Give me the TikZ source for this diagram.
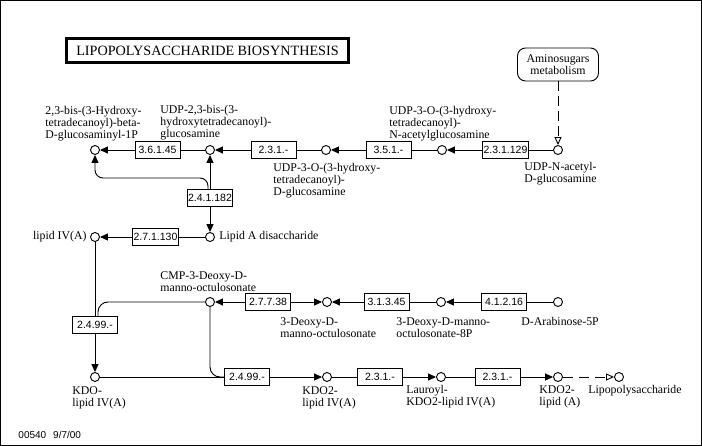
\documentclass[tikz,border=0pt]{standalone}
\usepackage{fontspec}
\setmainfont{Liberation Serif}
\setsansfont{Liberation Sans}
\usetikzlibrary{arrows.meta}

\begin{document}
\begin{tikzpicture}[x=1pt, y=-1pt, line width=0.9pt,
    >={Triangle[length=8pt, width=7pt]},
    cpd/.style={draw, circle, minimum size=9pt, inner sep=0pt},
    enz/.style={draw, rectangle, minimum width=45pt, minimum height=17pt, inner sep=1pt, font=\sffamily\fontsize{10.5}{12}\selectfont},
    txt/.style={align=left, anchor=north west, inner sep=0pt, font=\fontsize{11.8}{12}\selectfont}]
    \useasboundingbox (0, 0) rectangle (702, 446);
    \draw (0.5, 0.5) rectangle (701.5, 445.5);

    \node[draw, line width=3pt, minimum width=282pt, minimum height=24pt, font=\fontsize{14.2}{16}\selectfont] at (207.5, 50.5) (title) {LIPOPOLYSACCHARIDE BIOSYNTHESIS};
    \node[draw, rounded corners=8pt, minimum width=81pt, minimum height=33pt, align=center, font=\fontsize{11.8}{12}\selectfont] at (558, 64.5) (amino) {Aminosugars\\metabolism};
    \node[anchor=west, inner sep=0pt, font=\sffamily\fontsize{10}{12}\selectfont] at (18, 435) (date) {00540\hspace{7pt}9/7/00};

    \node[cpd] at (95, 150) (R1N1) {};
    \node[cpd] at (210, 150) (R1N2) {};
    \node[cpd] at (326, 150) (R1N3) {};
    \node[cpd] at (442, 150) (R1N4) {};
    \node[cpd] at (558, 150) (R1N5) {};
    \node[cpd] at (95, 237) (R2N1) {};
    \node[cpd] at (210, 237) (R2N2) {};
    \node[cpd] at (210, 302) (R3N1) {};
    \node[cpd] at (327, 302) (R3N2) {};
    \node[cpd] at (441, 302) (R3N3) {};
    \node[cpd] at (558, 302) (R3N4) {};
    \node[cpd] at (95, 377) (R4N1) {};
    \node[cpd] at (327, 377) (R4N2) {};
    \node[cpd] at (441, 377) (R4N3) {};
    \node[cpd] at (558, 377) (R4N4) {};
    \node[cpd] at (619, 377) (R4N5) {};

    \node[enz] at (157.5, 150) (R1E1) {3.6.1.45};
    \node[enz] at (273.5, 150) (R1E2) {2.3.1.-};
    \node[enz] at (388.5, 150) (R1E3) {3.5.1.-};
    \node[enz] at (505.5, 150) (R1E4) {2.3.1.129};
    \node[enz] at (210, 198) (R1E5) {2.4.1.182};
    \node[enz] at (155.5, 237) (R2E1) {2.7.1.130};
    \node[enz] at (95, 325) (R2E2) {2.4.99.-};
    \node[enz] at (268, 302) (R3E1) {2.7.7.38};
    \node[enz] at (386.5, 302) (R3E2) {3.1.3.45};
    \node[enz] at (504, 302) (R3E3) {4.1.2.16};
    \node[enz] at (247, 377) (R4E1) {2.4.99.-};
    \node[enz] at (380, 377) (R4E2) {2.3.1.-};
    \node[enz] at (497.5, 377) (R4E3) {2.3.1.-};

    \coordinate (R1K1) at (95, 178);

    \node[txt] at (45, 106) (R1T1) {2,3-bis-(3-Hydroxy-\\tetradecanoyl)-beta-\\D-glucosaminyl-1P};
    \node[txt] at (160, 105) (R1T2) {UDP-2,3-bis-(3-\\hydroxytetradecanoyl)-\\glucosamine};
    \node[txt] at (273, 163) (R1T3) {UDP-3-O-(3-hydroxy-\\tetradecanoyl)-\\D-glucosamine};
    \node[txt] at (389, 106) (R1T4) {UDP-3-O-(3-hydroxy-\\tetradecanoyl)-\\N-acetylglucosamine};
    \node[txt] at (524, 162) (R1T5) {UDP-N-acetyl-\\D-glucosamine};
    \node[txt, anchor=east] at (87, 237) (R2T1) {lipid IV(A)};
    \node[txt, anchor=west] at (219, 237) (R2T2) {Lipid A disaccharide};
    \node[txt] at (160, 271) (R3T1) {CMP-3-Deoxy-D-\\manno-octulosonate};
    \node[txt] at (280, 317) (R3T2) {3-Deoxy-D-\\manno-octulosonate};
    \node[txt] at (396, 317) (R3T3) {3-Deoxy-D-manno-\\octulosonate-8P};
    \node[txt] at (521, 317) (R3T4) {D-Arabinose-5P};
    \node[txt] at (72, 386) (R4T1) {KDO-\\lipid IV(A)};
    \node[txt] at (302, 386) (R4T2) {KDO2-\\lipid IV(A)};
    \node[txt] at (406, 385) (R4T3) {Lauroyl-\\KDO2-lipid IV(A)};
    \node[txt] at (539, 385) (R4T4) {KDO2-\\lipid (A)};
    \node[txt] at (588, 385) (R4T5) {Lipopolysaccharide};

    \draw[dash pattern=on 10pt off 5pt, -{Triangle[open, length=8pt, width=7pt]}] (amino) edge (R1N5);
    \draw (R1N5) edge (R1E4);
    \draw[->] (R1E4) edge (R1N4);
    \draw (R1N4) edge (R1E3);
    \draw[->] (R1E3) edge (R1N3);
    \draw (R1N3) edge (R1E2);
    \draw[->] (R1E2) edge (R1N2);
    \draw (R1N2) edge (R1E1);
    \draw[->] (R1E1) edge (R1N1);
    \draw[->] (R1E5) edge (R1N2);
    \draw[->] (R1E5) edge (R2N2);
    \draw[->, rounded corners=8pt] ([xshift=-2pt]R1E5.north) |- (R1K1) -- (R1N1);

    \draw (R2N2) edge (R2E1);
    \draw[->] (R2E1) edge (R2N1);
    \draw (R2N1) edge (R2E2);
    \draw[->] (R2E2) edge (R4N1);
    \draw[rounded corners=10pt] ([xshift=3pt]R2E2.north) |- (R3N1);

    \draw (R3N4) edge (R3E3);
    \draw[->] (R3E3) edge (R3N3);
    \draw (R3N3) edge (R3E2);
    \draw[->] (R3E2) edge (R3N2);
    \draw[->] (R3E1) edge (R3N1);
    \draw[->] (R3E1) edge (R3N2);
    \draw[rounded corners=10pt] (R3N1) |- (R4E1.west);

    \draw (R4N1) edge (R4E1);
    \draw[->] (R4E1) edge (R4N2);
    \draw (R4N2) edge (R4E2);
    \draw[->] (R4E2) edge (R4N3);
    \draw (R4N3) edge (R4E3);
    \draw[->] (R4E3) edge (R4N4);
    \draw[dash pattern=on 10pt off 6pt, -{Triangle[open, length=8pt, width=7pt]}] (R4N4) edge (R4N5);
\end{tikzpicture}
\end{document}
